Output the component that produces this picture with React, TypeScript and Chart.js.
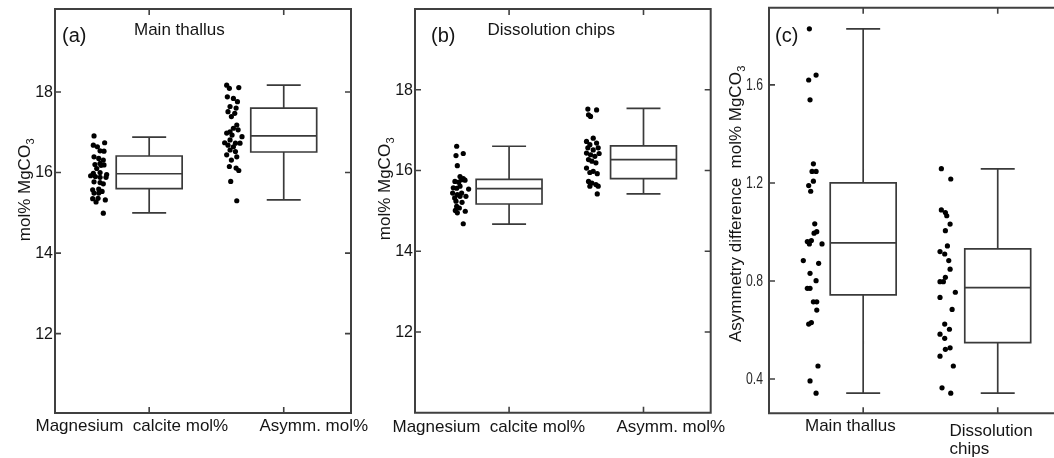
import React, { useEffect, useRef } from "react";
import { Chart, registerables } from "chart.js";

Chart.register(...registerables);

// ---------- DATA ----------
// Panel (a) Main thallus: individual measurements (x = jitter position, y = mol% MgCO3)
const mainMgX = [0.590, 0.585, 0.615, 0.669, 0.635, 0.664, 0.590, 0.625, 0.659, 0.635, 0.597, 0.642, 0.664, 0.610, 0.585, 0.635, 0.684, 0.565, 0.600, 0.635, 0.679, 0.590, 0.635, 0.659, 0.580, 0.625, 0.650, 0.590, 0.625, 0.580, 0.620, 0.674, 0.605, 0.659];
const mainMgY = [16.91, 16.68, 16.64, 16.74, 16.54, 16.53, 16.39, 16.35, 16.31, 16.23, 16.20, 16.18, 16.19, 16.10, 15.98, 16.00, 15.95, 15.92, 15.90, 15.88, 15.88, 15.77, 15.75, 15.72, 15.57, 15.59, 15.53, 15.49, 15.49, 15.35, 15.36, 15.32, 15.27, 14.99];
const mainAsX = [1.576, 1.596, 1.666, 1.581, 1.626, 1.656, 1.601, 1.646, 1.586, 1.636, 1.611, 1.651, 1.626, 1.601, 1.661, 1.576, 1.616, 1.690, 1.601, 1.641, 1.561, 1.586, 1.626, 1.675, 1.601, 1.641, 1.576, 1.651, 1.611, 1.596, 1.646, 1.666, 1.606, 1.651];
const mainAsY = [18.17, 18.09, 18.11, 17.88, 17.84, 17.76, 17.64, 17.60, 17.51, 17.47, 17.39, 17.18, 17.10, 17.01, 17.06, 16.98, 16.93, 16.89, 16.81, 16.73, 16.74, 16.68, 16.64, 16.73, 16.56, 16.52, 16.44, 16.39, 16.31, 16.15, 16.11, 16.05, 15.78, 15.30];

// Panel (b) Dissolution chips
const chipsMgX = [0.610, 0.605, 0.659, 0.615, 0.635, 0.659, 0.597, 0.625, 0.647, 0.672, 0.585, 0.610, 0.635, 0.699, 0.580, 0.615, 0.647, 0.595, 0.635, 0.679, 0.605, 0.650, 0.610, 0.630, 0.600, 0.674, 0.615, 0.659];
const chipsMgY = [16.60, 16.37, 16.42, 16.12, 15.85, 15.80, 15.73, 15.71, 15.77, 15.76, 15.57, 15.56, 15.61, 15.54, 15.44, 15.40, 15.44, 15.32, 15.36, 15.36, 15.24, 15.21, 15.11, 15.07, 15.01, 14.99, 14.95, 14.68];
const chipsAsX = [1.586, 1.651, 1.591, 1.606, 1.626, 1.576, 1.601, 1.651, 1.586, 1.626, 1.663, 1.576, 1.606, 1.638, 1.670, 1.591, 1.616, 1.646, 1.576, 1.626, 1.601, 1.656, 1.591, 1.616, 1.646, 1.601, 1.663, 1.656];
const chipsAsY = [17.52, 17.50, 17.38, 17.34, 16.80, 16.72, 16.64, 16.68, 16.56, 16.51, 16.56, 16.43, 16.39, 16.35, 16.42, 16.27, 16.23, 16.19, 16.06, 15.98, 15.95, 15.92, 15.73, 15.69, 15.65, 15.61, 15.61, 15.42];

// Panel (c) Asymmetry difference
const asymMainX = [0.600, 0.595, 0.650, 0.605, 0.630, 0.620, 0.650, 0.630, 0.595, 0.610, 0.640, 0.655, 0.635, 0.585, 0.615, 0.600, 0.694, 0.555, 0.669, 0.605, 0.650, 0.585, 0.605, 0.630, 0.655, 0.655, 0.595, 0.615, 0.664, 0.605, 0.650];
const asymMainY = [1.829, 1.620, 1.640, 1.539, 1.278, 1.247, 1.247, 1.207, 1.189, 1.166, 1.033, 1.001, 0.995, 0.961, 0.965, 0.951, 0.951, 0.883, 0.872, 0.831, 0.801, 0.770, 0.770, 0.715, 0.715, 0.681, 0.624, 0.630, 0.453, 0.392, 0.342];
const asymChipsX = [1.581, 1.651, 1.581, 1.611, 1.621, 1.646, 1.611, 1.571, 1.606, 1.626, 1.636, 1.646, 1.611, 1.571, 1.596, 1.685, 1.571, 1.661, 1.606, 1.641, 1.571, 1.606, 1.646, 1.611, 1.571, 1.670, 1.586, 1.651];
const asymChipsY = [1.258, 1.216, 1.090, 1.079, 1.066, 1.032, 1.005, 0.920, 0.910, 0.943, 0.883, 0.848, 0.815, 0.797, 0.797, 0.754, 0.733, 0.684, 0.624, 0.603, 0.583, 0.566, 0.527, 0.521, 0.493, 0.453, 0.364, 0.342];

// Box statistics: [lower whisker, Q1, median, Q3, upper whisker]
const mainMgBox = [15.0, 15.6, 15.97, 16.41, 16.88];
const mainAsBox = [15.32, 16.51, 16.91, 17.6, 18.17];
const chipsMgBox = [14.67, 15.17, 15.55, 15.78, 16.6];
const chipsAsBox = [15.42, 15.8, 16.27, 16.61, 17.54];
const asymMainBox = [0.342, 0.743, 0.955, 1.2, 1.829];
const asymChipsBox = [0.342, 0.548, 0.773, 0.931, 1.257];

const boxPositions = [1, 2];
const xTicks = [1, 2];
const yTicksMol = [12, 14, 16, 18];
const yTicksAsym = [0.4, 0.8, 1.2, 1.6];
const xLabelsMol = ["Magnesium  calcite mol%", "Asymm. mol%"];
const xLabelsAsym = [["Main thallus"], ["Dissolution", "chips"]];

// ---------- STYLE ----------
const FONT = '"Liberation Sans", Arial, Helvetica, sans-serif';
const LINE = "#3a3a3a";
const BOX_HALF = 0.245;
const CAP_HALF = 0.12;

type Pt = { x: number; y: number | null };

function boxSegments(stats: number[], pos: number): Pt[] {
  const [mn, q1, md, q3, mx] = stats;
  const w = BOX_HALF;
  const c = CAP_HALF;
  const gap = { x: pos, y: null };
  return [
    { x: pos - w, y: q1 }, { x: pos + w, y: q1 }, { x: pos + w, y: q3 }, { x: pos - w, y: q3 }, { x: pos - w, y: q1 }, gap,
    { x: pos - w, y: md }, { x: pos + w, y: md }, gap,
    { x: pos, y: q3 }, { x: pos, y: mx }, gap,
    { x: pos - c, y: mx }, { x: pos + c, y: mx }, gap,
    { x: pos, y: q1 }, { x: pos, y: mn }, gap,
    { x: pos - c, y: mn }, { x: pos + c, y: mn }, gap,
  ];
}

function zip(xs: number[], ys: number[]) {
  return xs.map((x, i) => ({ x, y: ys[i] }));
}

type Panel = {
  canvasWidth: number;
  padding: { left: number; top: number; right: number; bottom: number };
  yMin: number;
  yMax: number;
  yTicks: number[];
  decimals: number;
  tickGap: number;
  tickFont: number;
  tickScaleX: number;
  tickColor: string;
  boxes: number[][];
  points: { x: number[]; y: number[] }[];
  letter: string;
  letterX: number;
  title: string;
  titleX: number;
  yTitle: string;
  yTitleX: number;
  yTitleY: number;
  xLabels: { lines: string[]; x: number; y: number }[];
  rightBorder: boolean;
};

const panels: Panel[] = [
  {
    canvasWidth: 1054,
    padding: { left: 55, top: 9, right: 1054 - 351, bottom: 458 - 413 },
    yMin: 10.03,
    yMax: 20.06,
    yTicks: yTicksMol,
    decimals: 0,
    tickGap: 2,
    tickFont: 16,
    tickScaleX: 1,
    tickColor: "#151515",
    boxes: [mainMgBox, mainAsBox],
    points: [{ x: mainMgX, y: mainMgY }, { x: mainAsX, y: mainAsY }],
    letter: "(a)",
    letterX: 62,
    title: "Main thallus",
    titleX: 134,
    yTitle: "Mol",
    yTitleX: 29.5,
    yTitleY: 190,
    xLabels: [
      { lines: [xLabelsMol[0]], x: 35.5, y: 431 },
      { lines: [xLabelsMol[1]], x: 259.5, y: 431 },
    ],
    rightBorder: true,
  },
  {
    canvasWidth: 1054,
    padding: { left: 415, top: 9, right: 1054 - 710.7, bottom: 458 - 412.7 },
    yMin: 10,
    yMax: 20,
    yTicks: yTicksMol,
    decimals: 0,
    tickGap: 2,
    tickFont: 16,
    tickScaleX: 1,
    tickColor: "#151515",
    boxes: [chipsMgBox, chipsAsBox],
    points: [{ x: chipsMgX, y: chipsMgY }, { x: chipsAsX, y: chipsAsY }],
    letter: "(b)",
    letterX: 431,
    title: "Dissolution chips",
    titleX: 487.5,
    yTitle: "Mol",
    yTitleX: 389.5,
    yTitleY: 189,
    xLabels: [
      { lines: [xLabelsMol[0]], x: 392.5, y: 432 },
      { lines: [xLabelsMol[1]], x: 616.5, y: 432 },
    ],
    rightBorder: true,
  },
  {
    canvasWidth: 1070,
    padding: { left: 769, top: 7.7, right: 5, bottom: 458 - 413.3 },
    yMin: 0.26,
    yMax: 1.915,
    yTicks: yTicksAsym,
    decimals: 1,
    tickGap: 6,
    tickFont: 16.5,
    tickScaleX: 0.74,
    tickColor: "#2a2a2a",
    boxes: [asymMainBox, asymChipsBox],
    points: [{ x: asymMainX, y: asymMainY }, { x: asymChipsX, y: asymChipsY }],
    letter: "(c)",
    letterX: 775,
    title: "",
    titleX: 0,
    yTitle: "Diff",
    yTitleX: 741,
    yTitleY: 204,
    xLabels: [
      { lines: xLabelsAsym[0], x: 805, y: 431 },
      { lines: xLabelsAsym[1], x: 949.5, y: 436 },
    ],
    rightBorder: false,
  },
];

function yTitleText(kind: string) {
  return kind === "Diff" ? "Asymmetry difference  mol% MgCO" : "mol% MgCO";
}

function makeDecor(p: Panel) {
  return {
    id: "decor",
    afterDraw(chart: any) {
      const { ctx, chartArea: a, scales } = chart;
      const xs = scales.x;
      const ys = scales.y;
      ctx.save();
      // frame
      ctx.strokeStyle = "#404040";
      ctx.lineWidth = 2;
      ctx.beginPath();
      if (p.rightBorder) {
        ctx.rect(a.left, a.top, a.right - a.left, a.bottom - a.top);
      } else {
        ctx.moveTo(a.right + 10, a.top);
        ctx.lineTo(a.left, a.top);
        ctx.lineTo(a.left, a.bottom);
        ctx.lineTo(a.right + 10, a.bottom);
      }
      ctx.stroke();
      // inward ticks
      ctx.lineWidth = 1.6;
      ctx.beginPath();
      p.yTicks.forEach((v) => {
        const py = ys.getPixelForValue(v);
        ctx.moveTo(a.left, py);
        ctx.lineTo(a.left + 6, py);
        if (p.rightBorder) {
          ctx.moveTo(a.right, py);
          ctx.lineTo(a.right - 6, py);
        }
      });
      xTicks.forEach((v) => {
        const px = xs.getPixelForValue(v);
        ctx.moveTo(px, a.top);
        ctx.lineTo(px, a.top + 6);
        ctx.moveTo(px, a.bottom);
        ctx.lineTo(px, a.bottom - 6);
      });
      ctx.stroke();
      // tick labels
      ctx.fillStyle = p.tickColor;
      ctx.font = `${p.tickFont}px ${FONT}`;
      ctx.textAlign = "right";
      ctx.textBaseline = "middle";
      p.yTicks.forEach((v) => {
        ctx.save();
        ctx.translate(a.left - p.tickGap, ys.getPixelForValue(v) + 0.5);
        ctx.scale(p.tickScaleX, 1);
        ctx.fillText(v.toFixed(p.decimals), 0, 0);
        ctx.restore();
      });
      // x labels
      ctx.fillStyle = "#151515";
      ctx.textAlign = "left";
      ctx.textBaseline = "alphabetic";
      ctx.font = `17px ${FONT}`;
      p.xLabels.forEach((l) => {
        l.lines.forEach((line, i) => ctx.fillText(line, l.x, l.y + i * 18));
      });
      // panel letter and title
      ctx.font = `20px ${FONT}`;
      ctx.fillText(p.letter, p.letterX, 41.5);
      if (p.title) {
        ctx.font = `17px ${FONT}`;
        ctx.fillText(p.title, p.titleX, 35);
      }
      // rotated y title with subscript
      const main = yTitleText(p.yTitle);
      ctx.font = `17px ${FONT}`;
      const wMain = ctx.measureText(main).width;
      ctx.font = `11px ${FONT}`;
      const wSub = ctx.measureText("3").width;
      const total = wMain + wSub;
      ctx.translate(p.yTitleX, p.yTitleY);
      ctx.rotate(-Math.PI / 2);
      ctx.font = `17px ${FONT}`;
      ctx.fillText(main, -total / 2, 0);
      ctx.font = `11px ${FONT}`;
      ctx.fillText("3", -total / 2 + wMain + 0.5, 4);
      ctx.restore();
    },
  };
}

function PanelChart({ p }: { p: Panel }) {
  const ref = useRef<HTMLCanvasElement | null>(null);
  useEffect(() => {
    if (!ref.current) return;
    const boxData: Pt[] = [];
    p.boxes.forEach((b, i) => boxData.push(...boxSegments(b, boxPositions[i])));
    const datasets: any[] = [
      {
        data: boxData,
        showLine: true,
        spanGaps: false,
        pointRadius: 0,
        borderColor: LINE,
        borderWidth: 1.7,
        borderJoinStyle: "miter",
        borderCapStyle: "square",
        fill: false,
      },
      ...p.points.map((pt) => ({
        data: zip(pt.x, pt.y),
        showLine: false,
        pointRadius: 2.6,
        pointBackgroundColor: "#000",
        pointBorderWidth: 0,
        pointBorderColor: "#000",
      })),
    ];
    const chart = new Chart(ref.current, {
      type: "scatter",
      data: { datasets },
      plugins: [makeDecor(p)],
      options: {
        animation: false,
        responsive: false,
        events: [],
        layout: { padding: p.padding },
        plugins: { legend: { display: false }, tooltip: { enabled: false } },
        scales: {
          x: { type: "linear", min: 0.3, max: 2.5, display: false },
          y: { type: "linear", min: p.yMin, max: p.yMax, display: false },
        },
      },
    });
    return () => chart.destroy();
  }, [p]);
  return (
    <canvas
      ref={ref}
      width={p.canvasWidth}
      height={458}
      style={{ position: "absolute", left: 0, top: 0, width: p.canvasWidth, height: 458 }}
    />
  );
}

export default function App() {
  return (
    <div
      style={{
        position: "fixed",
        left: 0,
        top: 0,
        width: 1054,
        height: 458,
        overflow: "hidden",
        background: "#fff",
      }}
    >
      {panels.map((p, i) => (
        <PanelChart key={i} p={p} />
      ))}
    </div>
  );
}
